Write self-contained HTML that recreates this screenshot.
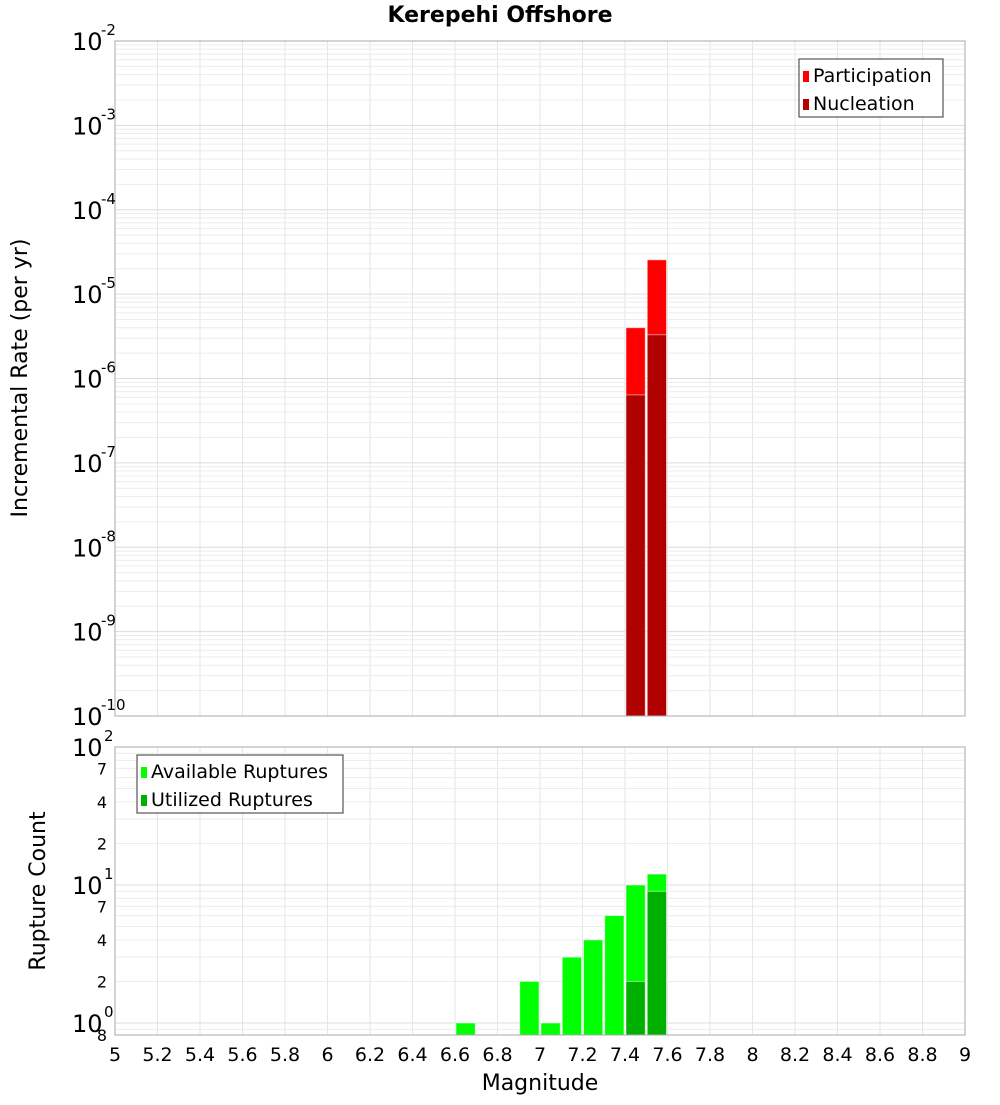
<!DOCTYPE html>
<html><head><meta charset="utf-8"><style>
body{margin:0;background:#fff}
svg text{font-family:"DejaVu Sans","Liberation Sans",sans-serif}
</style></head><body>
<svg id="c" width="1000" height="1100" xmlns="http://www.w3.org/2000/svg"></svg>
<script>
const partMags=[7.45,7.55];
const partVals=[4.0e-6,2.55e-5];
const nuclMags=[7.45,7.55];
const nuclVals=[6.4e-7,3.3e-6];
const availMags=[6.65,6.95,7.05,7.15,7.25,7.35,7.45,7.55];
const availVals=[1,2,1,3,4,6,10,12];
const utilMags=[7.45,7.55];
const utilVals=[2,9];
const xTicks=[5,5.2,5.4,5.6,5.8,6,6.2,6.4,6.6,6.8,7,7.2,7.4,7.6,7.8,8,8.2,8.4,8.6,8.8,9];
const topExps=[-2,-3,-4,-5,-6,-7,-8,-9,-10];
const botMinor=[2,4,7];

const svg=document.getElementById('c');
const NS='http://www.w3.org/2000/svg';
function mk(t,a,p){const e=document.createElementNS(NS,t);for(const k in a)e.setAttribute(k,a[k]);(p||svg).appendChild(e);return e;}
const X0=115,X1=965;
const x=v=>X0+(v-5)/4*(X1-X0);
const T0=41,T1=716;
const yT=v=>T0+(-2-Math.log10(v))/8*(T1-T0);
const B0=747,B1=1035;
const yB=v=>B0+(2-Math.log10(v))*138;

// title
const title=mk('text',{x:500,y:22,'text-anchor':'middle','font-size':22,'font-weight':'bold'});
title.textContent='Kerepehi Offshore';



// grids
function vgrid(y0,y1){for(let v=5;v<=9.001;v+=0.2){const l=mk('line',{x1:x(v),x2:x(v),y1:y0,y2:y1,stroke:'#e6e6e6'});}}
vgrid(T0,T1);vgrid(B0,B1);
for(let e=-10;e<-2;e++){for(let m=1;m<10;m++){const yy=yT(m*Math.pow(10,e));const l=mk('line',{x1:X0,x2:X1,y1:yy,y2:yy,stroke:m==1?'#dcdcdc':'#ececec'});}}
for(let e=-1;e<2;e++){for(let m=1;m<10;m++){const v=m*Math.pow(10,e);const yy=yB(v);if(yy>B1||yy<B0)continue;const l=mk('line',{x1:X0,x2:X1,y1:yy,y2:yy,stroke:m==1?'#dcdcdc':'#ececec'});}}

function bar(m,v,y,base,fill,name){const r=mk('rect',{x:x(m-0.05)+1,y:y(v),width:x(m+0.05)-x(m-0.05)-2,height:base-y(v),fill:fill,stroke:'rgba(255,255,255,0.5)','stroke-width':1});}
partMags.forEach((m,i)=>bar(m,partVals[i],yT,T1,'#ff0000','participation-bar'));
nuclMags.forEach((m,i)=>bar(m,nuclVals[i],yT,T1,'#b00000','nucleation-bar'));
availMags.forEach((m,i)=>bar(m,availVals[i],yB,B1,'#00ff00','available-ruptures-bar'));
utilMags.forEach((m,i)=>bar(m,utilVals[i],yB,B1,'#00b000','utilized-ruptures-bar'));

// frames
const f1=mk('rect',{x:X0,y:T0,width:X1-X0,height:T1-T0,fill:'none',stroke:'#aaa'});

const f2=mk('rect',{x:X0,y:B0,width:X1-X0,height:B1-B0,fill:'none',stroke:'#aaa'});


// top y ticks
topExps.forEach(e=>{const yy=yT(Math.pow(10,e));const t=mk('text',{x:72,y:yy+9,'font-size':24});t.textContent='10';const s=mk('text',{x:101,y:yy-6,'font-size':15});s.textContent=String(e);});
// bottom y ticks
[[100,'2'],[10,'1'],[1,'0']].forEach(([v,ex])=>{const yy=yB(v);const t=mk('text',{x:72,y:yy+9,'font-size':24});t.textContent='10';const s=mk('text',{x:104,y:yy-6,'font-size':15});s.textContent=ex;});
[1,10].forEach(d=>botMinor.forEach(m=>{const yy=yB(m*d);const t=mk('text',{x:107,y:yy+6,'font-size':16,'text-anchor':'end'});t.textContent=String(m);}));
const e8=mk('text',{x:107,y:1041,'font-size':16,'text-anchor':'end'});e8.textContent='8';

// x ticks
xTicks.forEach(v=>{const t=mk('text',{x:x(v),y:1061,'font-size':19,'text-anchor':'middle'});t.textContent=String(v);});
const xt=mk('text',{x:540,y:1090,'font-size':22,'text-anchor':'middle'});xt.textContent='Magnitude';
const yt1=mk('text',{transform:'translate(27,378) rotate(-90)','font-size':22,'text-anchor':'middle'});yt1.textContent='Incremental Rate (per yr)';
const yt2=mk('text',{transform:'translate(45,891) rotate(-90)','font-size':22,'text-anchor':'middle'});yt2.textContent='Rupture Count';

// legends
function legend(x0,y0,w,items,name){const g=mk('g',{});mk('rect',{x:x0,y:y0,width:w,height:58,fill:'#fff',stroke:'#333'},g);items.forEach(([lab,col],i)=>{mk('rect',{x:x0+4,y:y0+12+i*28,width:6,height:11,fill:col},g);const t=mk('text',{x:x0+14,y:y0+23+i*28,'font-size':19},g);t.textContent=lab;});}
legend(799,59,144,[['Participation','#ff0000'],['Nucleation','#b00000']],'top-legend');
legend(137,755,206,[['Available Ruptures','#00ff00'],['Utilized Ruptures','#00b000']],'bottom-legend');
</script>
</body></html>
